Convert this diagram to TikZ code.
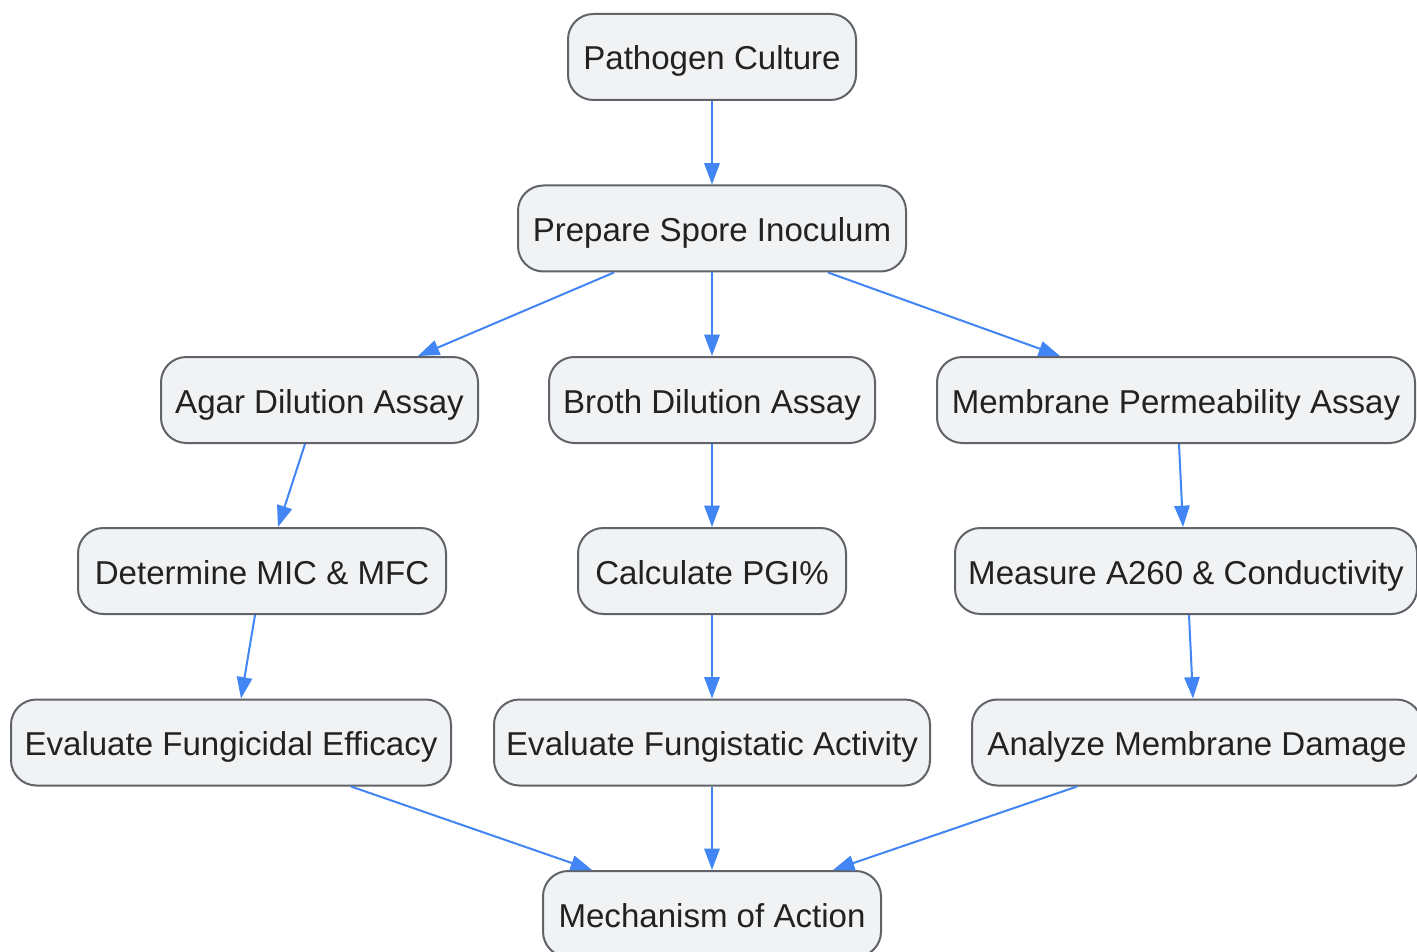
\documentclass[tikz,border=0pt]{standalone}
\usepackage{fontspec}
\setmainfont{Liberation Sans}
\usetikzlibrary{arrows.meta,calc}
\definecolor{boxfill}{HTML}{F1F2F4}
\definecolor{boxline}{HTML}{606368}
\definecolor{txt}{HTML}{222222}
\definecolor{arr}{HTML}{4285F4}
\tikzset{
  flowbox/.style={draw=boxline, line width=1.5pt, fill=boxfill, rounded corners=19pt,
    text=txt, font=\fontsize{24.8}{30}\selectfont, minimum height=64.5pt, inner sep=0pt,
    text height=22pt, text depth=2.5pt},
  flowarrow/.style={draw=arr, line width=1.5pt, -{Triangle[length=16pt,width=11.5pt]}}
}
\begin{document}
\begin{tikzpicture}[x=0.75pt,y=-0.75pt]
\clip (0,0) rectangle (1417,952);
\fill[white] (0,0) rectangle (1417,952);
\node[flowbox, minimum width=216pt] (pc) at (712,57) {Pathogen Culture};
\node[flowbox, minimum width=291pt] (psi) at (712,228.5) {Prepare Spore Inoculum};
\node[flowbox, minimum width=237.75pt] (agar) at (319.5,400) {Agar Dilution Assay};
\node[flowbox, minimum width=244.5pt] (broth) at (712,400) {Broth Dilution Assay};
\node[flowbox, minimum width=358.5pt] (mem) at (1176,400) {Membrane Permeability Assay};
\node[flowbox, minimum width=276pt] (mic) at (262,571) {Determine MIC \& MFC};
\node[flowbox, minimum width=201pt] (pgi) at (712,571) {Calculate PGI\%};
\node[flowbox, minimum width=346.5pt] (a260) at (1186,571) {Measure A260 \& Conductivity};
\node[flowbox, minimum width=330pt] (fcid) at (231,742.5) {Evaluate Fungicidal Efficacy};
\node[flowbox, minimum width=327pt] (fsta) at (712,742.5) {Evaluate Fungistatic Activity};
\node[flowbox, minimum width=337.5pt] (amd) at (1197,742.5) {Analyze Membrane Damage};
\node[flowbox, minimum width=253.5pt] (moa) at (712,914) {Mechanism of Action};

\draw[flowarrow] (pc.south) -- (psi.north);
\draw[flowarrow] ($(psi.south)+(-98,0)$) -- ($(agar.north)+(98.5,0)$);
\draw[flowarrow] (psi.south) -- (broth.north);
\draw[flowarrow] ($(psi.south)+(116,0)$) -- ($(mem.north)+(-116,0)$);
\draw[flowarrow] ($(agar.south)+(-14.5,0)$) -- ($(mic.north)+(16,0)$);
\draw[flowarrow] (broth.south) -- (pgi.north);
\draw[flowarrow] ($(mem.south)+(3,0)$) -- ($(a260.north)+(-3,0)$);
\draw[flowarrow] ($(mic.south)+(-7,0)$) -- ($(fcid.north)+(10,0)$);
\draw[flowarrow] (pgi.south) -- (fsta.north);
\draw[flowarrow] ($(a260.south)+(3,0)$) -- ($(amd.north)+(-4,0)$);
\draw[flowarrow] ($(fcid.south)+(120,0)$) -- ($(moa.north)+(-120,0)$);
\draw[flowarrow] (fsta.south) -- (moa.north);
\draw[flowarrow] ($(amd.south)+(-120,0)$) -- ($(moa.north)+(121,0)$);
\end{tikzpicture}
\end{document}
